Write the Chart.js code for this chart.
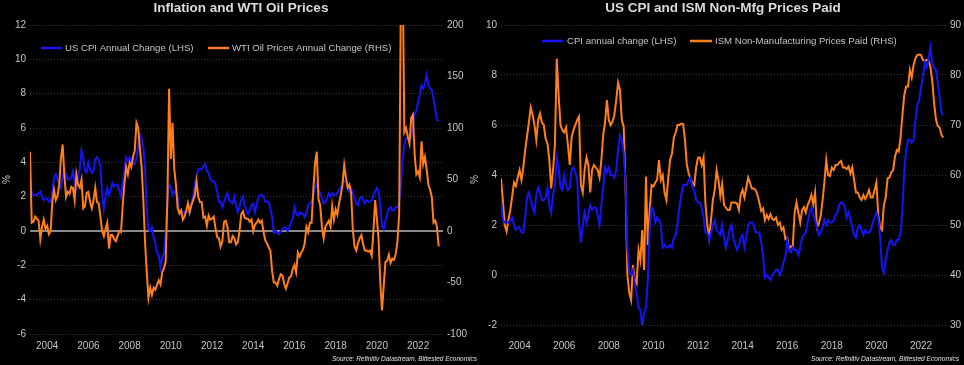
<!DOCTYPE html>
<html><head><meta charset="utf-8">
<script src="https://cdn.jsdelivr.net/npm/chart.js@4/dist/chart.umd.min.js"></script>
<style>
html,body{margin:0;padding:0;background:#000;width:964px;height:365px;overflow:hidden}
.wrap{position:absolute;top:0;width:482px;height:365px}
#w1{left:0}#w2{left:482px}
</style></head><body>
<div class="wrap" id="w1"><canvas id="c1" width="482" height="365"></canvas></div>
<div class="wrap" id="w2"><canvas id="c2" width="482" height="365"></canvas></div>
<script>
// Monthly data, March 2003 .. January 2023
const START_YEAR = 2003, START_MONTH = 3;
const yearTicks = [2004, 2006, 2008, 2010, 2012, 2014, 2016, 2018, 2020, 2022];

// US CPI annual change, %
const cpi = [
  3.0, 2.2, 2.1, 2.1, 2.1, 2.2, 2.3, 2.0, 1.8, 1.9,
  1.9, 1.7, 1.7, 2.3, 3.1, 3.3, 3.0, 2.7, 2.5, 3.2, 3.5, 3.3,
  3.0, 3.0, 3.1, 3.5, 2.8, 2.5, 3.2, 3.6, 4.7, 4.3, 3.5, 3.4,
  4.0, 3.6, 3.4, 3.5, 4.2, 4.3, 4.1, 3.8, 2.1, 1.3, 2.0, 2.5,
  2.1, 2.4, 2.8, 2.6, 2.7, 2.7, 2.4, 2.0, 2.8, 3.5, 4.3, 4.1,
  4.3, 4.0, 4.0, 3.9, 4.2, 5.0, 5.6, 5.4, 4.9, 3.7, 1.1, 0.1,
  0.0, 0.2, -0.4, -0.7, -1.3, -1.4, -2.1, -1.5, -1.3, -0.2, 1.8, 2.7,
  2.6, 2.1, 2.3, 2.2, 2.0, 1.1, 1.2, 1.1, 1.1, 1.2, 1.1, 1.5,
  1.6, 2.1, 2.7, 3.2, 3.6, 3.6, 3.6, 3.8, 3.9, 3.5, 3.4, 3.0,
  2.9, 2.9, 2.7, 2.3, 1.7, 1.7, 1.4, 1.7, 2.0, 2.2, 1.8, 1.7,
  1.6, 2.0, 1.5, 1.1, 1.4, 1.8, 2.0, 1.5, 1.2, 1.0, 1.2, 1.5,
  1.6, 1.1, 1.5, 2.0, 2.1, 2.1, 2.0, 1.7, 1.7, 1.7, 1.3, 0.8,
  -0.1, 0.0, -0.1, -0.2, 0.0, 0.1, 0.2, 0.2, 0.0, 0.2, 0.5, 0.7,
  1.4, 1.0, 0.9, 1.1, 1.0, 1.0, 0.8, 1.1, 1.5, 1.6, 1.7, 2.1,
  2.5, 2.7, 2.4, 2.2, 1.9, 1.6, 1.7, 1.9, 2.2, 2.0, 2.2, 2.1,
  2.1, 2.2, 2.4, 2.5, 2.8, 2.9, 2.9, 2.7, 2.3, 2.5, 2.2, 1.9,
  1.6, 1.5, 1.9, 2.0, 1.8, 1.6, 1.8, 1.7, 1.7, 1.8, 2.1, 2.3,
  2.5, 2.3, 1.5, 0.3, 0.1, 0.6, 1.0, 1.3, 1.4, 1.2, 1.2, 1.4,
  1.4, 1.7, 2.6, 4.2, 5.0, 5.4, 5.4, 5.3, 5.4, 6.2, 6.8, 7.0,
  7.5, 7.9, 8.5, 8.3, 8.6, 9.1, 8.5, 8.3, 8.2, 7.7, 7.1, 6.5,
  6.4
];

// WTI oil price annual change, %
const wti = [
  77, 8, 9, 14, 12, 10, -8, 4, 11, 2,
  5, -3, 0, 28, 40, 30, 34, 45, 70, 84, 55, 33,
  38, 36, 43, 42, 30, 55, 45, 42, 50, 22, 24, 37,
  38, 28, 22, 30, 42, 28, 27, 14, 0, -5, 2, 8,
  -17, -4, -4, -8, -10, -5, 0, -1, 25, 46, 62, 55,
  66, 62, 72, 78, 105, 100, 80, 62, 30, -11, -40, -65,
  -55, -62, -55, -57, -52, -48, -52, -40, -36, -30, 30, 138,
  70, 105, 60, 45, 22, 17, 20, 11, 14, 20, 27, 18,
  25, 30, 35, 48, 33, 28, 28, 13, 14, 5, 15, 11,
  12, 14, 3, -6, -7, -15, -10, 9, 10, 4, -11, -11,
  -5, -7, -13, -11, 0, 16, 19, 13, 12, 12, 9, 11,
  0, 6, 8, 11, 8, 10, -1, -9, -12, -16, -19, -39,
  -50, -50, -53, -47, -42, -43, -51, -56, -51, -45, -44, -37,
  -33, -40, -21, -25, -21, -18, -12, 4, -1, 8, 8, 40,
  66, 77, 31, 25, 4, -7, 4, 7, 10, 4, 24, 11,
  21, 16, 27, 35, 45, 64, 52, 42, 45, 37, 1, -15,
  -19, -12, -7, -4, -13, -19, -19, -20, -19, -24, 0, 30,
  12, -8, -50, -77, -53, -30, -29, -23, -31, -27, -28, -22,
  -10, 17, 230, 260, 96, 100, 92, 85, 110, 113, 75, 55,
  58, 52, 87, 65, 72, 60, 45, 40, 33, 8, 10, 4,
  -15
];

// ISM Non-Manufacturing Prices Paid index
const ismPrices = [
  59.3, 55, 50, 48.7, 51, 53, 55.7, 58.5, 57.8, 59.5,
  61, 59, 61.5, 65, 67.7, 70.5, 73.5, 72, 70, 67, 71, 72.3,
  70.5, 70, 67.3, 66.3, 63, 57.3, 61, 66, 83.3, 76, 70, 69,
  68.5, 69.5, 66, 62, 67.5, 69, 70, 71, 71.7, 58, 56.5, 61,
  63.5, 62, 56.5, 61, 62, 61.5, 61, 59.5, 63, 68, 70.5, 75,
  71, 70, 70.7, 72, 75, 78.5, 77, 71, 69.7, 58, 40, 36.5,
  35, 42, 39, 38.3, 45, 43, 49, 41, 59.7, 46, 53, 58,
  57.7, 58.5, 59, 63, 59, 60, 56.5, 55, 59.5, 63, 64.3, 67.5,
  68.5, 70, 70, 70.3, 70.2, 67, 62, 60.3, 59.3, 58.5, 58, 61.5,
  63.5, 63.5, 62, 63.5, 54.3, 50, 47.5, 51, 55, 57, 61, 59,
  55.8, 58.2, 54, 53.5, 53, 53, 54.5, 54.5, 54.5, 54.3, 53, 56,
  57, 55.5, 57.5, 59.5, 58.4, 57.3, 57.3, 57, 56, 54.5, 52.8, 53.3,
  51, 52, 51.2, 52.2, 51.2, 51, 51.5, 50, 50.5, 49, 49.5, 47.2,
  47.5, 45.2, 45.7, 45.8, 52.5, 54.5, 52.5, 50.5, 53, 53.6, 52.5, 54,
  54.8, 56, 54.2, 56.5, 49.5, 50.3, 51.8, 54.8, 58.5, 63, 60, 59.8,
  61.5, 61, 62, 62, 62.5, 62.8, 61.5, 61.5, 61.2, 61.7, 60.3, 61.5,
  59, 56.5, 56.5, 55.5, 55, 56, 55.2, 56, 57, 55.5, 55.5, 57,
  58.5, 52, 49.5, 49, 54, 55.5, 59.3, 59.5, 60.5, 61, 63.7, 65,
  64.7, 67.5, 72, 76, 77.7, 77.7, 81, 79.5, 82, 83.3, 84, 84.1,
  84, 83, 82.8, 83, 83, 81.7, 79, 74.5, 71.2, 69.8, 69.5, 68,
  67.5
];

const SOURCE_TEXT = 'Source: Refinitiv Datastream, Bittested Economics';

const toPoints = arr => arr.map((v, i) => ({ x: START_YEAR + (START_MONTH - 1 + i) / 12, y: v }));

const BLUE = '#1414f5', ORANGE = '#ff7f1e';
const TXT = '#c4c4c4', GRID = '#353535';
const FONT = "'Liberation Sans', Arial, sans-serif";
const X_MIN = START_YEAR + (START_MONTH - 1) / 12, X_MAX = 2023.21;

const decor = {
  id: 'decor',
  beforeDatasetsDraw(chart, args, o) {
    if (o.zeroAxis) {
      const s = chart.scales[o.zeroAxis], a = chart.chartArea, ctx = chart.ctx;
      const y = s.getPixelForValue(0);
      ctx.save(); ctx.strokeStyle = '#8a8a8a'; ctx.lineWidth = 2;
      ctx.beginPath(); ctx.moveTo(a.left, y); ctx.lineTo(a.right, y); ctx.stroke(); ctx.restore();
    }
  },
  afterDraw(chart, args, o) {
    const ctx = chart.ctx;
    ctx.save();
    ctx.font = o.legendFont;
    ctx.textBaseline = 'middle';
    chart.data.datasets.forEach((ds, i) => {
      const it = o.legendItems[i];
      ctx.strokeStyle = ds.borderColor; ctx.lineWidth = 2.5;
      ctx.beginPath(); ctx.moveTo(it.x0, o.legendY); ctx.lineTo(it.x1, o.legendY); ctx.stroke();
      ctx.fillStyle = TXT; ctx.textAlign = 'left';
      ctx.fillText(ds.label, it.tx, o.legendY + 0.5);
    });
    // source note
    ctx.font = 'italic 8px ' + FONT;
    const w = ctx.measureText(o.source).width;
    const sx = o.sourceWidth / w;
    ctx.translate(o.sourceRight - o.sourceWidth, o.sourceY);
    ctx.scale(sx, 1);
    ctx.fillStyle = '#e0e0e0'; ctx.textAlign = 'left';
    ctx.fillText(o.source, 0, 0);
    ctx.restore();
  }
};

function makeChart(id, cfg) {
  const yTicks = { color: TXT, font: { family: FONT, size: 10 } };
  return new Chart(document.getElementById(id), {
    type: 'line',
    data: {
      datasets: [
        { label: cfg.labels[0], data: toPoints(cpi), borderColor: BLUE, borderWidth: 2, pointRadius: 0, tension: 0, order: cfg.blueOrder },
        { label: cfg.labels[1], data: toPoints(cfg.second), borderColor: ORANGE, borderWidth: 2, pointRadius: 0, tension: 0, order: cfg.orangeOrder, yAxisID: 'y1' }
      ]
    },
    options: {
      responsive: false, animation: false, devicePixelRatio: 1,
      layout: { padding: { top: 0, left: 0, right: 0, bottom: 0 } },
      plugins: {
        legend: { display: false }, tooltip: { enabled: false },
        title: { display: true, text: cfg.title, color: '#dadada', font: { family: FONT, size: 13.5, weight: 'bold' }, padding: { top: 0, bottom: 25 - 16.2 } },
        decor: cfg.decor
      },
      scales: {
        x: {
          type: 'linear', min: X_MIN, max: X_MAX,
          afterBuildTicks: s => { s.ticks = yearTicks.map(v => ({ value: v })); },
          afterFit: s => { s.height = cfg.xHeight; },
          ticks: { color: TXT, font: { family: FONT, size: 10 }, padding: cfg.xPad, autoSkip: false, maxRotation: 0, callback: v => String(v) },
          grid: { display: false, drawTicks: false }, border: { display: false }
        },
        y: {
          position: 'left', min: cfg.yl[0], max: cfg.yl[1],
          afterBuildTicks: s => { s.ticks = cfg.yl[2].map(v => ({ value: v })); },
          afterFit: s => { s.width = cfg.leftW; },
          ticks: Object.assign({ padding: cfg.leftPad }, yTicks),
          grid: { color: GRID, lineWidth: 1, drawTicks: false }, border: { display: false, dash: [1, 2] },
          title: cfg.pct ? { display: true, text: '%', color: TXT, font: { family: FONT, size: 10 }, padding: { top: 1, bottom: 0 } } : { display: false }
        },
        y1: {
          position: 'right', min: cfg.yr[0], max: cfg.yr[1],
          afterBuildTicks: s => { s.ticks = cfg.yr[2].map(v => ({ value: v })); },
          afterFit: s => { s.width = cfg.rightW; },
          ticks: Object.assign({ padding: cfg.rightPad }, yTicks),
          grid: { display: false, drawTicks: false }, border: { display: false },
          title: cfg.pct ? { display: true, text: '%', color: TXT, font: { family: FONT, size: 10 }, padding: { top: 3, bottom: 0 } } : { display: false }
        }
      }
    },
    plugins: [decor]
  });
}

makeChart('c1', {
  title: 'Inflation and WTI Oil Prices',
  labels: ['US CPI Annual Change (LHS)', 'WTI Oil Prices Annual Change (RHS)'],
  second: wti, blueOrder: 1, orangeOrder: 0,
  yl: [-6, 12, [-6, -4, -2, 0, 2, 4, 6, 8, 10, 12]],
  yr: [-100, 200, [-100, -50, 0, 50, 100, 150, 200]],
  leftW: 30, rightW: 39, leftPad: 4, rightPad: 4, xHeight: 31, xPad: 6, pct: true,
  decor: {
    zeroAxis: 'y', legendY: 48, legendFont: '9.6px ' + FONT,
    legendItems: [{ x0: 41, x1: 62, tx: 65 }, { x0: 208, x1: 229, tx: 232 }],
    source: SOURCE_TEXT, sourceRight: 477, sourceWidth: 145, sourceY: 359
  }
});

makeChart('c2', {
  title: 'US CPI and ISM Non-Mfg Prices Paid',
  labels: ['CPI annual change (LHS)', 'ISM Non-Manufacturing Prices Paid (RHS)'],
  second: ismPrices, blueOrder: 0, orangeOrder: 1,
  yl: [-2, 10, [-2, 0, 2, 4, 6, 8, 10]],
  yr: [30, 90, [30, 40, 50, 60, 70, 80, 90]],
  leftW: 19, rightW: 16, leftPad: 4, rightPad: 2, xHeight: 40, xPad: 15, pct: false,
  decor: {
    zeroAxis: null, legendY: 41, legendFont: '9.6px ' + FONT,
    legendItems: [{ x0: 60, x1: 81, tx: 85 }, { x0: 208, x1: 230, tx: 233 }],
    source: SOURCE_TEXT, sourceRight: 477, sourceWidth: 148, sourceY: 359
  }
});
</script>
</body></html>
